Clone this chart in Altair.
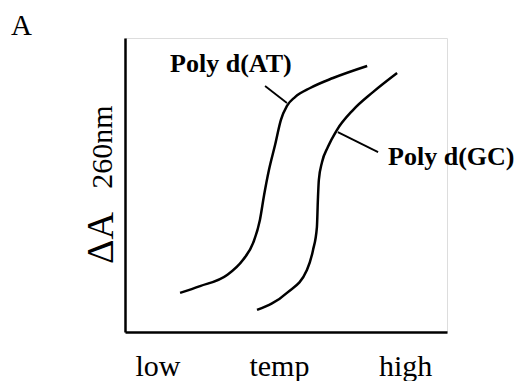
import altair as alt
import pandas as pd

# Melting curves (arbitrary units, temp 0-100, absorbance 0-100)
at_temp = [17.1, 23.3, 31.7, 36.6, 39.8, 41.9, 43.2, 44.7, 46.6, 48.4, 50.3, 52.8, 57.5, 64.6, 75.2]
at_abs  = [13.3, 15.6, 19.4, 24.5, 30.3, 38.1, 46.6, 55.1, 63.6, 72.1, 76.9, 79.9, 83.0, 86.4, 90.5]
gc_temp = [41.0, 50.3, 56.5, 58.4, 59.6, 59.9, 60.2, 61.2, 63.0, 65.8, 70.8, 77.0, 84.5]
gc_abs  = [7.5, 13.3, 21.1, 27.9, 35.7, 44.9, 51.7, 57.8, 62.9, 68.7, 75.5, 81.6, 88.1]

series_names = ["Poly d(AT)", "Poly d(GC)"]
# leader lines: start (near label) -> end (on curve)
leader_x1 = [43.5, 78.6]
leader_y1 = [83.7, 61.2]
leader_x2 = [50.3, 66.1]
leader_y2 = [77.9, 68.0]
# label anchor points
label_x = [14.0, 81.7]
label_y = [88.4, 56.8]

tick_labels = ["low", "temp", "high"]
tick_values = [10.1, 47.8, 87.0]

curves = pd.DataFrame(
    {"temp": at_temp + gc_temp,
     "abs": at_abs + gc_abs,
     "series": [series_names[0]] * len(at_temp) + [series_names[1]] * len(gc_temp),
     "order": list(range(len(at_temp))) + list(range(len(gc_temp)))}
)
leaders = pd.DataFrame({"x": leader_x1, "y": leader_y1, "x2": leader_x2, "y2": leader_y2, "series": series_names})
labels = pd.DataFrame({"x": label_x, "y": label_y, "text": series_names})

label_expr = " : ".join(
    [f"abs(datum.value - {v}) < 1 ? '{t}'" for v, t in zip(tick_values, tick_labels)]
) + " : ''"

xscale = alt.Scale(domain=[0, 100], nice=False, zero=False)
yscale = alt.Scale(domain=[0, 100], nice=False, zero=False)

xaxis = alt.Axis(
    values=tick_values, labelExpr=label_expr, ticks=False, tickSize=0, grid=False,
    domainColor="black", domainWidth=2.5, labelFont="Liberation Serif", labelFontSize=30,
    labelColor="black", labelPadding=43, labelBaseline="alphabetic", labelFlush=False,
    labelOverlap=False, title=None,
)
yaxis = alt.Axis(
    ticks=False, tickSize=0, labels=False, grid=False, domainColor="black", domainWidth=2.5,
    title="ΔA", titleFont="Liberation Serif", titleFontSize=38, titleFontWeight="normal",
    titleColor="black", titleAngle=270, titleX=-13, titleY=199.5,
    titleBaseline="alphabetic", titleAlign="center",
)

base_lines = alt.Chart(curves).mark_line(
    color="black", strokeWidth=2.5, interpolate="monotone", clip=False
).encode(
    x=alt.X("temp:Q", scale=xscale, axis=xaxis),
    y=alt.Y("abs:Q", scale=yscale, axis=yaxis),
    detail="series:N",
    order="order:Q",
)

leader_rules = alt.Chart(leaders).mark_rule(color="black", strokeWidth=1.8).encode(
    x="x:Q", y="y:Q", x2="x2:Q", y2="y2:Q"
)

label_text = alt.Chart(labels).mark_text(
    font="Liberation Serif", fontSize=26, fontWeight="bold", align="left",
    baseline="alphabetic", color="black",
).encode(x="x:Q", y="y:Q", text="text:N")

sub_df = pd.DataFrame({"text": ["260nm"]})
subscript = alt.Chart(sub_df).mark_text(
    font="Liberation Serif", fontSize=30, angle=270, align="center",
    baseline="alphabetic", color="black",
).encode(x=alt.value(-13), y=alt.value(109), text="text:N")

panel_df = pd.DataFrame({"text": ["A"]})
panel_letter = alt.Chart(panel_df).mark_text(
    font="Liberation Serif", fontSize=29, align="left",
    baseline="alphabetic", color="black",
).encode(x=alt.value(-114), y=alt.value(-3), text="text:N")

chart = alt.layer(base_lines, leader_rules, label_text, subscript, panel_letter).properties(
    width=322, height=294,
    autosize=alt.AutoSizeParams(type="none"),
    padding={"left": 125, "top": 38, "right": 73, "bottom": 49},
).configure_view(stroke=None).configure(background="white")

chart.save("out.html", embed_options={"renderer": "svg", "actions": False})
